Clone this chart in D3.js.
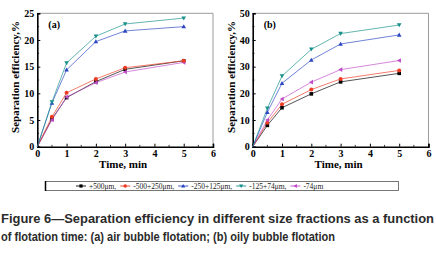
<!DOCTYPE html>
<html>
<head>
<meta charset="utf-8">
<script src="https://cdn.jsdelivr.net/npm/d3@7"></script>
<style>
  body { margin: 0; background: #fff; }
  svg { display: block; }
  .serif { font-family: "Liberation Serif", "Times New Roman", Times, "DejaVu Serif", serif; }
</style>
</head>
<body>
<script>
const times = [0, 0.5, 1, 2, 3, 5];
const seriesNames = ["+500\u03bcm,", "-500+250\u03bcm,", "-250+125\u03bcm,", "-125+74\u03bcm,", "-74\u03bcm"];
const colors = ["#000000", "#ee3b24", "#2b46c2", "#17908a", "#c04cc8"];
const symbols = ["square", "circle", "up", "down", "left"];

// panel (a) air bubble flotation
const airBlack = [0, 5.2, 9.2, 12.2, 14.5, 16.1];
const airRed = [0, 5.6, 10.1, 12.7, 14.8, 16.1];
const airBlue = [0, 8.2, 14.4, 19.7, 21.7, 22.5];
const airTeal = [0, 8.4, 15.7, 20.7, 23.0, 24.1];
const airMagenta = [0, 5.0, 9.3, 12.0, 14.0, 15.8];

// panel (b) oily bubble flotation
const oilyBlack = [0, 8.0, 14.6, 19.8, 24.3, 27.5];
const oilyRed = [0, 9.0, 15.9, 21.4, 25.4, 28.6];
const oilyBlue = [0, 12.9, 23.8, 32.5, 38.5, 41.9];
const oilyTeal = [0, 14.4, 26.5, 36.5, 42.4, 45.6];
const oilyMagenta = [0, 10.0, 17.9, 24.2, 28.9, 32.3];

const airSeries = [airBlack, airRed, airBlue, airTeal, airMagenta];
const oilySeries = [oilyBlack, oilyRed, oilyBlue, oilyTeal, oilyMagenta];

const xTicks = [0, 1, 2, 3, 4, 5, 6];
const airTicks = [0, 5, 10, 15, 20, 25];
const oilyTicks = [0, 10, 20, 30, 40, 50];

const captionLines = [
  "Figure 6\u2014Separation efficiency in different size fractions as a function",
  "of flotation time: (a) air bubble flotation; (b) oily bubble flotation"
];

const width = 436;
const height = 253;

const svg = d3.select("body").append("svg")
  .attr("width", width)
  .attr("height", height);

const marker = (g, type, color, s) => {
  if (type === "square") {
    g.append("rect").attr("x", -s / 2).attr("y", -s / 2).attr("width", s).attr("height", s).attr("fill", color);
  } else if (type === "circle") {
    g.append("circle").attr("r", s / 2 + 0.2).attr("fill", color);
  } else {
    const r = s / 2 + 0.5;
    let pts;
    if (type === "up") pts = [[0, -r], [r, r * 0.75], [-r, r * 0.75]];
    if (type === "down") pts = [[0, r], [r, -r * 0.75], [-r, -r * 0.75]];
    if (type === "left") pts = [[-r, 0], [r * 0.75, -r], [r * 0.75, r]];
    g.append("polygon").attr("points", pts.map(p => p.join(",")).join(" ")).attr("fill", color);
  }
};

const panel = (opts) => {
  const { x0, x1, y0, y1, yMax, yTicks, series, label, ylabelX, order } = opts;
  const x = d3.scaleLinear().domain([0, 6]).range([x0, x1]);
  const y = d3.scaleLinear().domain([0, yMax]).range([y0, y1]);
  const g = svg.append("g");

  // frame (top/right)
  g.append("path")
    .attr("d", `M${x0},${y1}H${x1}V${y0}`)
    .attr("fill", "none").attr("stroke", "#9a9a9a").attr("stroke-width", 1);

  // axes with inward ticks
  const xAxis = d3.axisBottom(x).tickValues(xTicks).tickSize(-3).tickPadding(3).tickFormat(d3.format("d"));
  const gx = g.append("g").attr("transform", `translate(0,${y0})`).call(xAxis);
  const yAxis = d3.axisLeft(y).tickValues(yTicks).tickSize(-3).tickPadding(3).tickFormat(d3.format("d"));
  const gy = g.append("g").attr("transform", `translate(${x0},0)`).call(yAxis);

  [gx, gy].forEach(a => {
    a.attr("font-family", null).attr("font-size", null);
    a.select(".domain").attr("stroke", "#000").attr("stroke-width", 1.6);
    a.selectAll(".tick line").attr("stroke", "#000").attr("stroke-width", 1);
    a.selectAll("text").attr("class", "serif").attr("font-weight", "bold")
      .style("font-size", "10px").attr("fill", "#000");
  });

  // minor ticks
  const minorX = d3.range(0.5, 6, 1);
  g.append("g").selectAll("line").data(minorX).join("line")
    .attr("x1", d => x(d)).attr("x2", d => x(d))
    .attr("y1", y0).attr("y2", y0 - 1.8)
    .attr("stroke", "#000").attr("stroke-width", 0.8);
  const step = yTicks[1] - yTicks[0];
  const minorY = d3.range(step / 2, yMax, step);
  g.append("g").selectAll("line").data(minorY).join("line")
    .attr("x1", x0).attr("x2", x0 + 1.8)
    .attr("y1", d => y(d)).attr("y2", d => y(d))
    .attr("stroke", "#000").attr("stroke-width", 0.8);

  // series
  const line = d3.line().x((d, i) => x(times[i])).y(d => y(d));
  order.forEach(k => {
    g.append("path")
      .datum(series[k])
      .attr("d", line)
      .attr("fill", "none")
      .attr("stroke", colors[k])
      .attr("stroke-opacity", 0.75)
      .attr("stroke-width", 0.9);
  });
  order.forEach(k => {
    series[k].forEach((v, i) => {
      if (i === 0) return;
      const m = g.append("g").attr("transform", `translate(${x(times[i])},${y(v)})`);
      marker(m, symbols[k], colors[k], 3.6);
    });
  });

  // labels
  g.append("text")
    .attr("class", "serif")
    .attr("x", x0 + 11).attr("y", y1 + 15)
    .attr("font-weight", "bold").style("font-size", "10px")
    .text(label);

  g.append("text")
    .attr("class", "serif")
    .attr("x", (x0 + x1) / 2 - 2).attr("y", y0 + 21)
    .attr("text-anchor", "middle")
    .attr("font-weight", "bold").style("font-size", "11px")
    .text("Time, min");

  g.append("text")
    .attr("class", "serif")
    .attr("transform", `translate(${ylabelX},${(y0 + y1) / 2 - 3}) rotate(-90)`)
    .attr("text-anchor", "middle")
    .attr("font-weight", "bold").style("font-size", "11px")
    .text("Separation efficiency,%");
};

panel({ x0: 37.3, x1: 213, y0: 146.7, y1: 13.3, yMax: 25, yTicks: airTicks,
  series: airSeries, label: "(a)", ylabelX: 19, order: [0, 4, 1, 2, 3] });
panel({ x0: 252.7, x1: 428.5, y0: 146.7, y1: 13.3, yMax: 50, yTicks: oilyTicks,
  series: oilySeries, label: "(b)", ylabelX: 234.5, order: [0, 1, 4, 2, 3] });

// legend
const legend = svg.append("g");
legend.append("rect")
  .attr("x", 45.5).attr("y", 181.5).attr("width", 353).attr("height", 9)
  .attr("fill", "#fff").attr("stroke", "#555").attr("stroke-width", 0.8);
legend.append("line")
  .attr("x1", 45.5).attr("x2", 45.5).attr("y1", 181).attr("y2", 191)
  .attr("stroke", "#000").attr("stroke-width", 1.5);
let lx = 76;
const ly = 186;
seriesNames.forEach((name, k) => {
  legend.append("line")
    .attr("x1", lx).attr("x2", lx + 10).attr("y1", ly).attr("y2", ly)
    .attr("stroke", colors[k]).attr("stroke-width", 0.9);
  const m = legend.append("g").attr("transform", `translate(${lx + 5},${ly})`);
  marker(m, symbols[k], colors[k], 3.2);
  const t = legend.append("text")
    .attr("class", "serif")
    .attr("x", lx + 13).attr("y", ly + 2.5)
    .style("font-size", "7.5px").attr("fill", "#222")
    .text(name);
  lx += 13 + t.node().getComputedTextLength() + 4;
});

// caption
captionLines.forEach((txt, i) => {
  const t = svg.append("text")
    .attr("x", 1).attr("y", 222.5 + i * 18.5)
    .style("font-family", "'Liberation Sans', Arial, sans-serif")
    .attr("font-weight", "bold").style("font-size", "12.5px")
    .attr("fill", "#2b2b2b")
    .text(txt);
  const target = i === 0 ? 433 : 334;
  t.attr("textLength", target).attr("lengthAdjust", "spacingAndGlyphs");
});
</script>
</body>
</html>
